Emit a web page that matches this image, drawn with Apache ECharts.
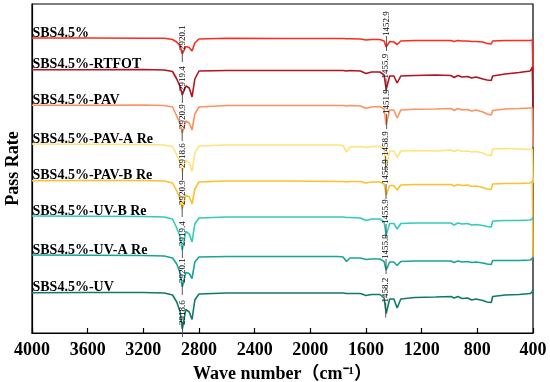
<!DOCTYPE html>
<html><head><meta charset="utf-8">
<script src="https://cdn.jsdelivr.net/npm/echarts@6/dist/echarts.min.js"></script>
<style>html,body{margin:0;padding:0;background:#fff}#c{width:550px;height:382px}</style>
</head><body><div id="c"></div>
<script>
// Wave numbers (cm-1) at which each spectrum was read
const wavenumbers = [4000,3600,3200,3050,2990,2960,2935,2920,2895,2870,2850,2830,2800,2600,2200,1800,1765,1740,1715,1640,1600,1560,1500,1470,1455,1430,1400,1376,1350,1250,1100,990,966,940,910,870,840,810,760,730,700,690,600,500,420,405,400];

const seriesNames = ['SBS4.5%','SBS4.5%-RTFOT','SBS4.5%-PAV','SBS4.5%-PAV-A Re','SBS4.5%-PAV-B Re','SBS4.5%-UV-B Re','SBS4.5%-UV-A Re','SBS4.5%-UV'];

// Stacked pass-rate traces (arbitrary offset units)
const sbs   = [295,295,294.8,294.7,293.5,291,287,279,286.5,285.5,282,290,294,294.7,294.5,294.5,294.5,294.2,294.3,294,293,293.5,293.5,292,286,291.5,291,288.5,292,292.5,292.5,292.5,291.5,292.5,292,292,291.5,291.5,291,289.5,289,292,292.5,292.5,292.5,293,261];
const rtfot = [263.3,263.2,263.5,263,261.5,254,246,238,247,245,236,254,262,262.5,262.5,262.5,262.5,262,262.5,262,259.5,261,261,258,243.5,257,257,250,257,257.5,258,257.5,255.5,257.5,256,256.5,255,256,254,253,252.5,257,259,260.5,262,266,225];
const pav   = [227.7,227.7,228,227.5,226,217,209,200,212,210,203,219,226,227.5,227.5,227.5,227.5,227,227.5,227,224.7,226,226.5,224,208,223,223,215,223,223.7,224,224.5,222.5,224.5,223,223.5,222,223,221,219,218,222.5,224,224.5,225,225,186];
const pavA  = [189,188.7,188.5,188,186.5,178,170,161,173,170,161.5,180,187,188,188,188,187.5,181,186,186.5,185.5,186.5,186.5,184,166,182,182,175.5,182,182.5,182,183,181.5,183,181.5,182,181,181.5,180,178,177.5,184,184.5,184,183.5,184,150];
const pavB  = [152.3,152.5,152.5,152,150,142,134,124,138,136,129,144,151,152,152,151.5,151.5,151,151.5,151.5,150,151,151,149,138,147.5,147.5,143,148,148.5,148.5,148.5,147,148.5,147.5,148,146.5,147,145.5,144,143.5,149,149.5,149.5,150,152,76];
const uvB   = [117,116.7,116.5,116,114,105,96,83,101.5,99,91,109,115,116,116,116,116,115.5,115.5,115,112.5,114,114,111,98,109.5,109.5,104,109.5,110,110,110,108,110,109,109.5,108,108.5,107.5,106.5,106,112,112.5,112.5,113,114,116];
const uvA   = [78,77.7,77.5,77,75,69,60,46,60.5,59.5,54.5,71,76,76.5,76.5,76.5,76,71.5,75,75,73.5,74,74,71.5,63,71,71,67.5,71.5,72,72,72,70.5,72,71,71.5,70.5,71,70,69,68.5,72.5,72.5,72.5,73,74.5,76];
const uv    = [40.3,40.5,40.5,40,38,31,21,4,23.5,21,13.5,33,39,40,40,40,40,39.5,39.5,39.5,37.5,38.5,38.5,35,19.5,34,34,25,34,35.5,36,36.5,35,36.5,34.5,35,33,34,32.5,31,30.5,36.5,38,38.5,39.5,41,44];

// Peak labels
const chPeakLabels   = ['2920.1','2919.4','2920.9','2918.6','2920.9','2919.4','2920.1','2918.6'];
const bendPeakLabels = ['1452.9','1455.9','1451.9','1458.9','1455.9','1455.9','1455.9','1458.2'];

const xTicks = [4000,3600,3200,2800,2400,2000,1600,1200,800,400];

const allValues = [sbs, rtfot, pav, pavA, pavB, uvB, uvA, uv];
const colors = ['#ff2a1f','#b3121e','#ff9160','#ffe27a','#ffbf2e','#2fcbbb','#17a596','#0f7a6b'];
const SERIF = "'Times New Roman','Liberation Serif','Noto Sans CJK SC',serif";

const lineSeries = allValues.map((vals, i) => ({
  type: 'line', name: seriesNames[i], showSymbol: false, symbol: 'none',
  data: wavenumbers.map((w, k) => [w, vals[k]]),
  lineStyle: { color: colors[i], width: 1.6 }, itemStyle: { color: colors[i] },
  animation: false, z: 2 + i
}));

const i2920 = wavenumbers.indexOf(2920), i1455 = wavenumbers.indexOf(1455);
const annMeta = [];
const annData = [];
allValues.forEach((vals, i) => {
  annData.push([parseFloat(chPeakLabels[i]), vals[i2920]]); annMeta.push({ text: chPeakLabels[i], kind: 'ch' });
  annData.push([parseFloat(bendPeakLabels[i]), vals[i1455]]); annMeta.push({ text: bendPeakLabels[i], kind: 'bend' });
});

const nameData = allValues.map(vals => [wavenumbers[0], vals[0]]);

const option = {
  backgroundColor: '#fff',
  animation: false,
  grid: { left: 32, right: 17, top: 4, bottom: 49, containLabel: false, outerBoundsMode: 'none',
    show: true, borderColor: '#000', borderWidth: 1.2, backgroundColor: 'transparent' },
  xAxis: {
    type: 'value', min: 400, max: 4000, interval: 400, inverse: true,
    name: 'Wave number（cm⁻¹）', nameLocation: 'middle', nameGap: 32,
    nameTextStyle: { fontFamily: SERIF, fontWeight: 'bold', fontSize: 18, color: '#000' },
    axisLine: { lineStyle: { color: '#000', width: 1.2 } },
    axisTick: { inside: true, length: 5, lineStyle: { color: '#000', width: 1.2 } },
    axisLabel: { fontFamily: SERIF, fontWeight: 'bold', fontSize: 18, color: '#000', margin: 8,
      formatter: v => xTicks.includes(v) ? String(v) : '' },
    splitLine: { show: false }
  },
  yAxis: {
    type: 'value', min: 0, max: 329,
    name: 'Pass Rate', nameLocation: 'middle', nameGap: 10,
    nameTextStyle: { fontFamily: SERIF, fontWeight: 'bold', fontSize: 18, color: '#000' },
    axisLine: { show: true, lineStyle: { color: '#000', width: 1.2 } },
    axisTick: { show: false }, axisLabel: { show: false }, splitLine: { show: false }
  },
  series: lineSeries.concat([
    {
      type: 'custom', z: 20, silent: true, clip: false,
      data: annData,
      renderItem: (params, api) => {
        const p = api.coord([api.value(0), api.value(1)]);
        const m = annMeta[params.dataIndex];
        const textY = m.kind === 'ch' ? p[1] - 4 : p[1] - 11;
        const lineEnd = m.kind === 'ch' ? p[1] + 8 : p[1] + 4;
        return { type: 'group', children: [
          { type: 'line', shape: { x1: p[0], y1: textY, x2: p[0], y2: lineEnd }, style: { stroke: '#444', lineWidth: 0.9 } },
          { type: 'text', x: p[0], y: textY, rotation: Math.PI / 2,
            style: { text: m.text, x: 0, y: 0, align: 'left', verticalAlign: 'middle', fill: '#000',
              font: "9px 'Times New Roman','Liberation Serif',serif" } }
        ]};
      }
    },
    {
      type: 'custom', z: 21, silent: true, clip: false,
      data: nameData,
      renderItem: (params, api) => {
        const p = api.coord([api.value(0), api.value(1)]);
        return { type: 'text', x: p[0] + 0.5, y: p[1] + 2,
          style: { text: seriesNames[params.dataIndex], align: 'left', verticalAlign: 'bottom', fill: '#000',
            font: "bold 14px 'Times New Roman','Liberation Serif',serif" } };
      }
    }
  ])
};
const chart = echarts.init(document.getElementById('c'), null, { renderer: 'canvas' });
chart.setOption(option);
</script></body></html>
